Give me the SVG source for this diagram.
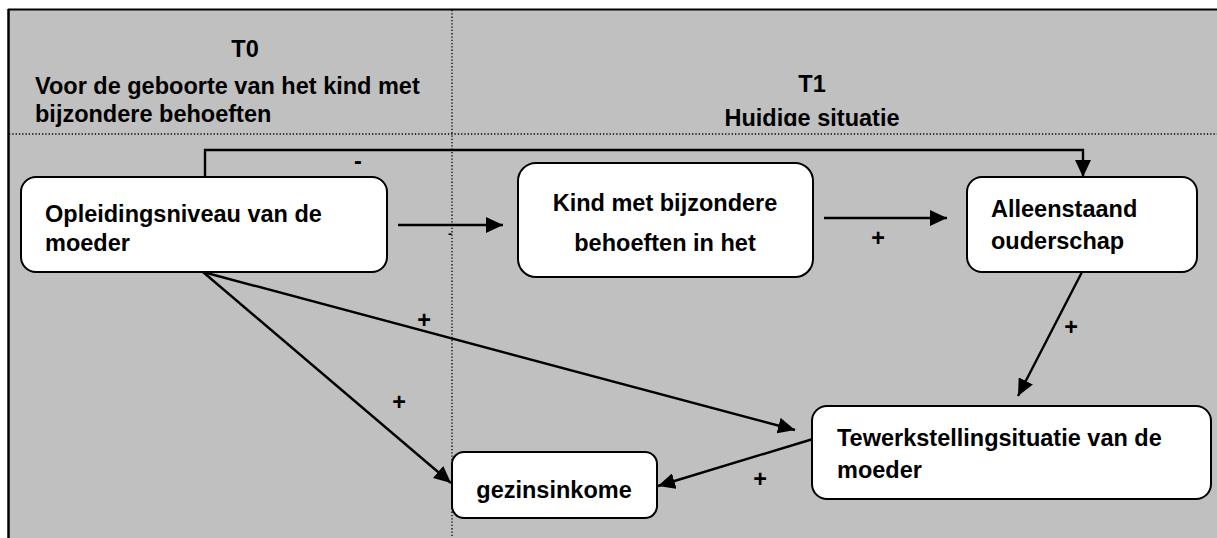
<svg xmlns="http://www.w3.org/2000/svg" width="1217" height="538" viewBox="0 0 1217 538">
<style>
.t{font-family:"Liberation Sans",Arial,sans-serif;font-weight:bold;font-size:23.5px;fill:#000}
.box{fill:#fff;stroke:#000;stroke-width:2}
.c{fill:none;stroke:#000;stroke-width:2.4}
.dot{stroke:#000;stroke-width:1.3;stroke-dasharray:1.3 2}
</style>
<defs>
<marker id="ah" markerUnits="userSpaceOnUse" markerWidth="18" markerHeight="16" refX="17" refY="8" orient="auto">
<path d="M0,0 L17,8 L0,16 Z" fill="#000"/>
</marker>
<clipPath id="clipH"><rect x="452" y="9" width="765" height="117"/></clipPath>
</defs>
<rect x="8" y="9" width="1212" height="532" fill="#c0c0c0"/>
<line x1="8" y1="9.5" x2="1217" y2="9.5" stroke="#000" stroke-width="2"/>
<line x1="8.5" y1="9" x2="8.5" y2="538" stroke="#000" stroke-width="2.5"/>
<line class="dot" x1="452" y1="10" x2="452" y2="538"/>
<line class="dot" x1="9" y1="134" x2="1217" y2="134"/>
<g id="header-t0">
<text class="t" x="245" y="57" text-anchor="middle">T0</text>
<text class="t" x="35" y="94">Voor de geboorte van het kind met</text>
<text class="t" x="35" y="122">bijzondere behoeften</text>
</g>
<g id="header-t1">
<text class="t" x="812" y="92" text-anchor="middle">T1</text>
<text class="t" x="812" y="126" text-anchor="middle" clip-path="url(#clipH)">Huidige situatie</text>
</g>
<g id="connectors">
<polyline class="c" points="205,177 205,150 1083,150 1083,177" marker-end="url(#ah)"/>
<line class="c" x1="398" y1="225" x2="503" y2="225" marker-end="url(#ah)"/>
<line class="c" x1="824" y1="218" x2="947" y2="218" marker-end="url(#ah)"/>
<line class="c" x1="1082" y1="272" x2="1018" y2="396" marker-end="url(#ah)"/>
<line class="c" x1="203" y1="272" x2="451" y2="483" marker-end="url(#ah)"/>
<line class="c" x1="203" y1="272" x2="795" y2="430" marker-end="url(#ah)"/>
<line class="c" x1="813" y1="439" x2="658" y2="486" marker-end="url(#ah)"/>
<text class="t" x="358" y="169" text-anchor="middle">-</text>
<text class="t" x="450" y="238" text-anchor="middle" style="font-size:12px">-</text>
<text class="t" x="878" y="246" text-anchor="middle">+</text>
<text class="t" x="1071" y="335" text-anchor="middle">+</text>
<text class="t" x="424" y="328" text-anchor="middle">+</text>
<text class="t" x="399" y="410" text-anchor="middle">+</text>
<text class="t" x="760" y="487" text-anchor="middle">+</text>
</g>
<g id="node-opleiding">
<rect class="box" x="21" y="177" width="366" height="95" rx="15"/>
<text class="t" x="45" y="222">Opleidingsniveau van de</text>
<text class="t" x="45" y="251">moeder</text>
</g>
<g id="node-kind">
<rect class="box" x="518" y="163" width="295" height="114" rx="18"/>
<text class="t" x="665" y="211" text-anchor="middle">Kind met bijzondere</text>
<text class="t" x="665" y="251" text-anchor="middle">behoeften in het</text>
</g>
<g id="node-alleenstaand">
<rect class="box" x="967" y="177" width="230" height="95" rx="15"/>
<text class="t" x="991" y="217">Alleenstaand</text>
<text class="t" x="991" y="249">ouderschap</text>
</g>
<g id="node-tewerkstelling">
<rect class="box" x="812" y="406" width="399" height="93" rx="15"/>
<text class="t" x="837" y="446">Tewerkstellingsituatie van de</text>
<text class="t" x="837" y="478">moeder</text>
</g>
<g id="node-gezinsinkome">
<rect class="box" x="452" y="452" width="205" height="66" rx="12"/>
<text class="t" x="554" y="498" text-anchor="middle">gezinsinkome</text>
</g>
</svg>
